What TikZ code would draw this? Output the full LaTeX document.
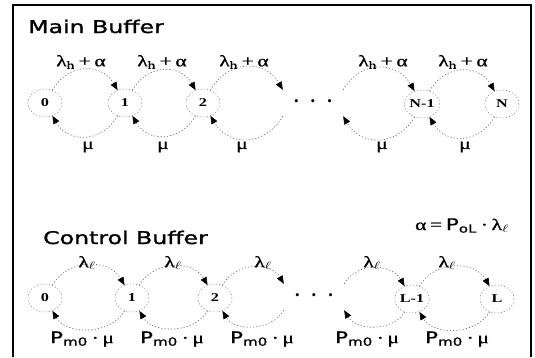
\documentclass[tikz,border=0pt]{standalone}
\usepackage{fontspec}
\setmainfont{Liberation Serif}
\newfontfamily\sansf[FakeBold=0.8]{DejaVu Sans}
\newfontfamily\titlef[FakeBold=1.2]{DejaVu Sans}
\newfontfamily\grkf[FakeBold=0.8]{Liberation Serif}
\usetikzlibrary{shapes.geometric,arrows.meta}
\newcommand\stt[1]{\scalebox{1.35}[1]{#1}}
\begin{document}
\begin{tikzpicture}[x=1pt,y=1pt,
  state/.style={ellipse,draw=black!50,dash pattern=on 1.2pt off 2pt,line width=0.5pt,
    minimum width=34pt,minimum height=28pt,inner sep=0pt,font=\fontsize{12}{12}\bfseries\selectfont},
  dotsnode/.style={minimum width=60pt,minimum height=26pt,inner sep=0pt,font=\fontsize{13}{13}\selectfont},
  trans/.style={draw=black!60,dash pattern=on 1.2pt off 2pt,line width=0.6pt,
    -{Triangle[length=8pt,width=6.5pt,color=black]}},
  upper/.style={trans,out=60,in=120,looseness=1.25},
  lower/.style={trans,out=-120,in=-60,looseness=1.25},
  upperc/.style={trans,out=60,in=120,looseness=1.1},
  lowerc/.style={trans,out=-120,in=-60,looseness=1.0},
  lab/.style={font=\grkf\fontsize{16}{16}\selectfont,inner sep=0pt},
  title/.style={font=\titlef\fontsize{17.5}{17.5}\selectfont,inner sep=0pt,anchor=base west},
  frame/.style={draw=black,line width=1.2pt}
]
\useasboundingbox (0,0) rectangle (535,-357);
\draw[frame] (13,-357) -- (13,-5) -- (531,-5) -- (531,-357);

% titles
\node[title] (t1) at (28,-33) {\stt{Main Buffer}};
\node[title] (t2) at (43,-244) {\stt{Control Buffer}};
\node[lab,anchor=base] (eq) at (462,-230) {\stt{α\,=\,{\sansf P}\textsubscript{\sansf oL}\,·\,λ\textsubscript{$\ell$}}};

% main buffer states
\node[state] (m0) at (45,-103) {\stt{0}};
\node[state] (m1) at (125,-103) {\stt{1}};
\node[state] (m2) at (203,-103) {\stt{2}};
\node[dotsnode] (md) at (313,-103) {\textbullet\hspace{12pt}\textbullet\hspace{12pt}\textbullet};
\node[state] (mN1) at (422,-104) {\stt{N-1}};
\node[state] (mN) at (502,-104) {\stt{N}};

\draw[upper] (m0.60) to (m1.120);
\draw[upper] (m1.60) to (m2.120);
\draw[upper] (m2.60) to (md.north west);
\draw[upper] (md.north east) to (mN1.120);
\draw[upper] (mN1.60) to (mN.120);
\draw[lower] (m1.240) to (m0.-60);
\draw[lower] (m2.240) to (m1.-60);
\draw[lower] (md.south west) to (m2.-60);
\draw[lower] (mN1.240) to (md.south east);
\draw[lower] (mN.240) to (mN1.-60);

\node[lab] (la1) at (81,-62) {\stt{λ\textsubscript{h}\,+\,α}};
\node[lab] (la2) at (162,-62) {\stt{λ\textsubscript{h}\,+\,α}};
\node[lab] (la3) at (244,-62) {\stt{λ\textsubscript{h}\,+\,α}};
\node[lab] (la4) at (383,-62) {\stt{λ\textsubscript{h}\,+\,α}};
\node[lab] (la5) at (463,-62) {\stt{λ\textsubscript{h}\,+\,α}};
\node[lab] (lm1) at (88,-147) {\stt{μ}};
\node[lab] (lm2) at (163,-147) {\stt{μ}};
\node[lab] (lm3) at (242,-147) {\stt{μ}};
\node[lab] (lm4) at (382,-147) {\stt{μ}};
\node[lab] (lm5) at (465,-147) {\stt{μ}};

% control buffer states
\node[state] (c0) at (45,-298) {\stt{0}};
\node[state] (c1) at (132,-298) {\stt{1}};
\node[state] (c2) at (215,-298) {\stt{2}};
\node[dotsnode] (cd) at (314,-297) {\textbullet\hspace{12pt}\textbullet\hspace{12pt}\textbullet};
\node[state] (cL1) at (412,-299) {\stt{L-1}};
\node[state] (cL) at (497,-299) {\stt{L}};

\draw[upperc] (c0.60) to (c1.120);
\draw[upperc] (c1.60) to (c2.120);
\draw[upperc] (c2.60) to (cd.north west);
\draw[upperc] (cd.north east) to (cL1.120);
\draw[upperc] (cL1.60) to (cL.120);
\draw[lowerc] (c1.240) to (c0.-60);
\draw[lowerc] (c2.240) to (c1.-60);
\draw[lowerc] (cd.south west) to (c2.-60);
\draw[lowerc] (cL1.240) to (cd.south east);
\draw[lowerc] (cL.240) to (cL1.-60);

\node[lab] (ll1) at (87,-263) {\stt{λ\textsubscript{$\ell$}}};
\node[lab] (ll2) at (173,-263) {\stt{λ\textsubscript{$\ell$}}};
\node[lab] (ll3) at (263,-263) {\stt{λ\textsubscript{$\ell$}}};
\node[lab] (ll4) at (372,-263) {\stt{λ\textsubscript{$\ell$}}};
\node[lab] (ll5) at (447,-263) {\stt{λ\textsubscript{$\ell$}}};
\node[lab] (lp1) at (82,-339) {\stt{{\sansf P}\textsubscript{\sansf m0}\,·\,μ}};
\node[lab] (lp2) at (172,-339) {\stt{{\sansf P}\textsubscript{\sansf m0}\,·\,μ}};
\node[lab] (lp3) at (262,-339) {\stt{{\sansf P}\textsubscript{\sansf m0}\,·\,μ}};
\node[lab] (lp4) at (367,-339) {\stt{{\sansf P}\textsubscript{\sansf m0}\,·\,μ}};
\node[lab] (lp5) at (457,-339) {\stt{{\sansf P}\textsubscript{\sansf m0}\,·\,μ}};
\end{tikzpicture}
\end{document}
